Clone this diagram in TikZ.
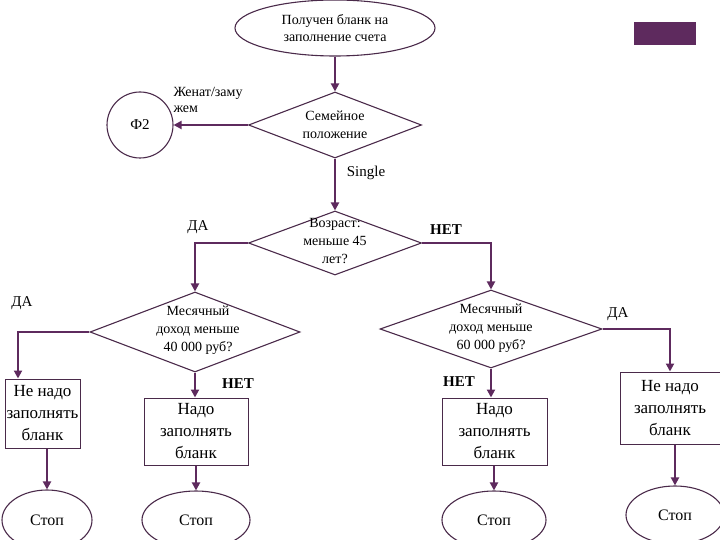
\documentclass[tikz,border=0pt]{standalone}
\usepackage{fontspec}
\setmainfont{Liberation Serif}
\usetikzlibrary{shapes.geometric,arrows.meta}
\definecolor{pur}{HTML}{5E2A5E}
\definecolor{edge}{HTML}{4A2A4A}
\begin{document}
\begin{tikzpicture}[x=1pt,y=-1pt,
 el/.style={draw=edge,line width=1.1pt,ellipse,minimum width=#1,inner sep=0,font=\fontsize{14}{17}\selectfont,align=center},
 dia/.style={draw=edge,line width=1.1pt,diamond,inner sep=0},
 dt/.style={font=\fontsize{14}{18}\selectfont,align=center},
 box/.style={draw=edge,line width=1pt,rectangle,inner sep=0,font=\fontsize{17}{22}\selectfont,align=center},
 lab/.style={font=\fontsize{15}{16}\selectfont,align=left},
 arr/.style={draw=pur,line width=2.4pt,-{Triangle[length=8pt,width=8pt]}}]
\useasboundingbox (0,0) rectangle (720,540);
\fill[pur] (634,22) rectangle (696,45);
\node[el=200pt,minimum height=56pt] (start) at (335,28) {Получен бланк на\\заполнение счета};
\node[dia,minimum width=173pt,minimum height=66pt] (fam) at (335,125) {};
\node[dt] (famt) at (335,125) {Семейное\\положение};
\node[draw=edge,line width=1.1pt,circle,minimum size=66pt,inner sep=0,font=\fontsize{15}{17}\selectfont] (f2) at (140,125) {Ф2};
\node[dia,minimum width=173pt,minimum height=64pt] (age) at (335,243) {};
\node[dt] (aget) at (335,241) {Возраст:\\меньше 45\\лет?};
\node[dia,minimum width=210pt,minimum height=80pt] (d40) at (195,332) {};
\node[dt] (d40t) at (198,330) {Месячный\\доход меньше\\40 000 руб?};
\node[dia,minimum width=222pt,minimum height=78pt] (d60) at (491,329) {};
\node[dt] (d60t) at (491,328) {Месячный\\доход меньше\\60 000 руб?};
\node[box,minimum width=75pt,minimum height=69pt] (b1) at (42.5,413.5) {Не надо\\заполнять\\бланк};
\node[box,minimum width=104pt,minimum height=67pt] (b2) at (196,431.5) {Надо\\заполнять\\бланк};
\node[box,minimum width=105pt,minimum height=67pt] (b3) at (494.5,431.5) {Надо\\заполнять\\бланк};
\node[box,minimum width=100pt,minimum height=72pt] (b4) at (670,408) {Не надо\\заполнять\\бланк};
\node[el=90pt,minimum height=60pt] (s1) at (47,520) {\fontsize{16}{18}\selectfont Стоп};
\node[el=108pt,minimum height=58pt] (s2) at (196,520) {\fontsize{16}{18}\selectfont Стоп};
\node[el=104pt,minimum height=58pt] (s3) at (494,520) {\fontsize{16}{18}\selectfont Стоп};
\node[el=98pt,minimum height=58pt] (s4) at (675,515) {\fontsize{16}{18}\selectfont Стоп};
\draw[arr] (start) -- (fam.north);
\draw[arr] (fam.west) -- (f2.east);
\draw[arr] (fam.south) -- (age.north);
\draw[arr] (age.west) -| (d40.north);
\draw[arr] (age.east) -| (d60.north);
\draw[arr] (d40.west) -| (b1.north -| 18,0) ;
\draw[arr] (d40.south) -- (d40.south |- b2.north);
\draw[arr] (d60.south) -- (d60.south |- b3.north);
\draw[arr] (d60.east) -| (b4.north);
\draw[arr] (b1.south -| s1) -- (s1.north);
\draw[arr] (b2.south) -- (s2.north);
\draw[arr] (b3.south -| s3) -- (s3.north);
\draw[arr] (b4.south -| s4) -- (s4.north);
\node[lab,font=\fontsize{14}{16}\selectfont] (l1) at (208,100) {Женат/заму\\жем};
\node[lab] (l2) at (366,173) {Single};
\node[lab] (l3) at (198,227) {ДА};
\node[lab,font=\bfseries\fontsize{15}{16}\selectfont] (l4) at (446,230) {НЕТ};
\node[lab] (l5) at (22,303) {ДА};
\node[lab,font=\bfseries\fontsize{15}{16}\selectfont] (l6) at (238,384) {НЕТ};
\node[lab,font=\bfseries\fontsize{15}{16}\selectfont] (l7) at (459,382) {НЕТ};
\node[lab] (l8) at (618,314) {ДА};
\end{tikzpicture}
\end{document}
